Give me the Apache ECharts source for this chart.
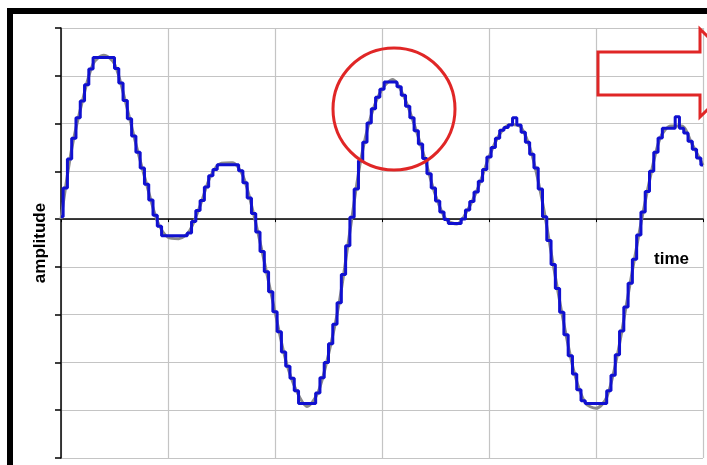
<!DOCTYPE html>
<html>
<head>
<meta charset="utf-8">
<script src="https://cdn.jsdelivr.net/npm/echarts@6/dist/echarts.min.js"></script>
<style>
  html, body { margin: 0; padding: 0; background: #fff; }
  #chart { width: 707px; height: 465px; }
</style>
</head>
<body>
<div id="chart"></div>
<script>
// quantized (sampled) signal, one value every 0.04 time units
const sampleStep = 0.04
const sampled = [
  0.05, 0.65, 1.26, 1.69, 2.12, 2.47, 2.81, 3.14, 3.38, 3.38,
  3.38, 3.38, 3.38, 3.15, 2.85, 2.48, 2.10, 1.74, 1.40, 1.07,
  0.73, 0.40, 0.08, -0.15, -0.35, -0.35, -0.35, -0.35, -0.35, -0.35,
  -0.29, -0.05, 0.18, 0.39, 0.67, 0.91, 1.04, 1.14, 1.14, 1.14,
  1.14, 1.14, 1.01, 0.76, 0.44, 0.12, -0.27, -0.68, -1.10, -1.52,
  -1.94, -2.36, -2.78, -3.08, -3.33, -3.59, -3.86, -3.86, -3.86, -3.86,
  -3.64, -3.32, -3.00, -2.61, -2.20, -1.75, -1.16, -0.56, 0.04, 0.63,
  1.22, 1.61, 2.01, 2.31, 2.55, 2.72, 2.87, 2.87, 2.87, 2.77,
  2.59, 2.36, 2.12, 1.85, 1.57, 1.27, 0.95, 0.65, 0.38, 0.15,
  -0.01, -0.09, -0.09, -0.09, 0.00, 0.19, 0.37, 0.57, 0.79, 1.04,
  1.30, 1.50, 1.69, 1.86, 1.92, 1.97, 2.12, 1.97, 1.82, 1.61,
  1.36, 1.07, 0.63, 0.05, -0.45, -0.95, -1.45, -1.95, -2.42, -2.86,
  -3.24, -3.57, -3.80, -3.86, -3.86, -3.86, -3.86, -3.86, -3.59, -3.27,
  -2.84, -2.34, -1.84, -1.34, -0.84, -0.33, 0.15, 0.58, 1.00, 1.40,
  1.70, 1.90, 1.90, 1.90, 2.14, 1.90, 1.80, 1.63, 1.46, 1.28,
  1.13
]

// underlying analog signal, one value every 0.1 time units
const analogStep = 0.1
const analog = [
  0.00, 1.47, 2.47, 3.25, 3.43, 3.25, 2.48, 1.57, 0.73, -0.04,
  -0.38, -0.41, -0.25, 0.28, 0.91, 1.17, 1.18, 0.91, 0.11, -0.89,
  -1.94, -2.95, -3.59, -3.92, -3.64, -2.83, -1.75, -0.26, 1.22, 2.18,
  2.72, 2.92, 2.59, 1.99, 1.27, 0.50, -0.01, -0.10, 0.19, 0.67,
  1.30, 1.78, 1.98, 1.92, 1.36, 0.35, -0.95, -2.19, -3.24, -3.85,
  -3.96, -3.73, -2.84, -1.59, -0.33, 0.80, 1.70, 1.95, 1.95, 1.56,
  1.13
]

const timeRange = [0, 6]
const ampRange = [-5, 4]

const chart = echarts.init(document.getElementById('chart'))

chart.setOption({
  backgroundColor: '#fff',
  animation: false,
  grid: { left: 61, right: 4, top: 28, bottom: 7 },
  xAxis: {
    type: 'value',
    min: timeRange[0],
    max: timeRange[1],
    interval: 1,
    axisLine: { onZero: true, lineStyle: { color: '#000', width: 1.5 } },
    axisTick: { show: true, length: 3, lineStyle: { color: '#000' } },
    axisLabel: { show: false },
    splitLine: { show: true, lineStyle: { color: '#c4c4c4', width: 1.2 } }
  },
  yAxis: {
    type: 'value',
    min: ampRange[0],
    max: ampRange[1],
    interval: 1,
    name: 'amplitude',
    nameLocation: 'middle',
    nameRotate: 90,
    nameGap: 12,
    nameTextStyle: { fontFamily: 'Liberation Sans', fontWeight: 'bold', fontSize: 17, color: '#000' },
    axisLine: { show: true, onZero: false, lineStyle: { color: '#000', width: 1.5 } },
    axisTick: { show: true, length: 6, lineStyle: { color: '#000', width: 1.5 } },
    axisLabel: { show: false },
    splitLine: { show: true, lineStyle: { color: '#c4c4c4', width: 1.2 } }
  },
  series: [
    {
      type: 'line',
      data: analog.map((v, i) => [i * analogStep, v]),
      smooth: 0.3,
      showSymbol: false,
      lineStyle: { color: '#8a8a8a', width: 3 },
      z: 2
    },
    {
      type: 'line',
      data: sampled.map((v, i) => [i * sampleStep, v]),
      step: 'middle',
      showSymbol: false,
      lineStyle: { color: '#1010d0', width: 3 },
      z: 3
    }
  ],
  graphic: [
    // outer frame
    {
      type: 'rect',
      shape: { x: 10, y: 11, width: 800, height: 800 },
      style: { fill: 'none', stroke: '#000', lineWidth: 6 },
      z: 10
    },
    {
      type: 'text',
      left: 654,
      top: 251,
      style: { text: 'time', font: 'bold 17px "Liberation Sans"', fill: '#000' },
      z: 10
    },
    // red circle around the peak
    {
      type: 'circle',
      shape: { cx: 394, cy: 109, r: 61 },
      style: { fill: 'none', stroke: '#e02626', lineWidth: 3 },
      z: 10
    },
    // red arrow outline
    {
      type: 'polygon',
      shape: { points: [[598, 52], [700, 52], [700, 29], [745, 73], [700, 117], [700, 95], [598, 95]] },
      style: { fill: 'none', stroke: '#e02626', lineWidth: 3 },
      z: 10
    }
  ]
})
</script>
</body>
</html>
